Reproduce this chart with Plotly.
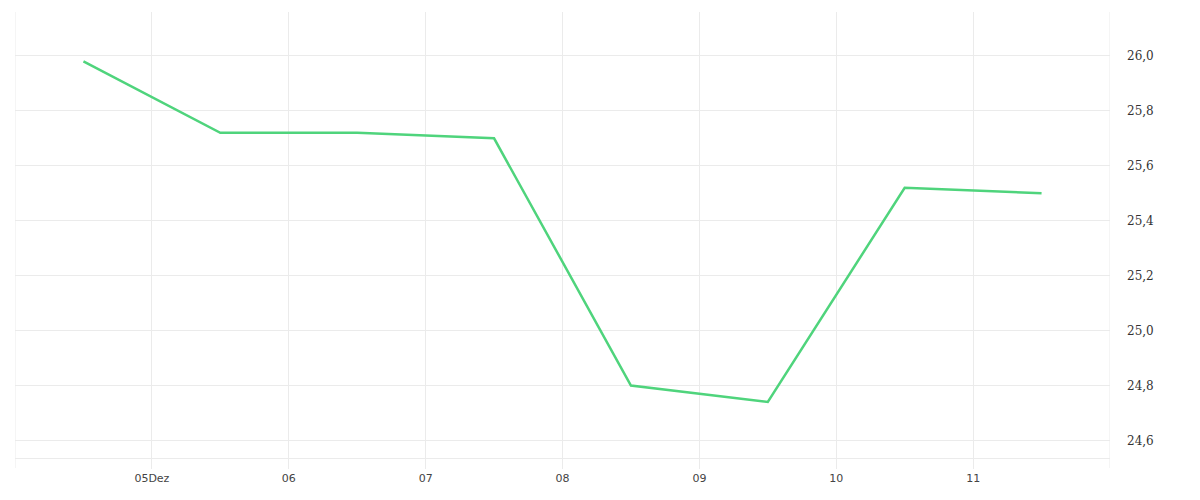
import plotly.graph_objects as go

# Datos (puntos a mediodía de cada día)
fechas = ["2023-12-04 12:00", "2023-12-05 12:00", "2023-12-06 12:00", "2023-12-07 12:00",
          "2023-12-08 12:00", "2023-12-09 12:00", "2023-12-10 12:00", "2023-12-11 12:00"]
valores = [25.98, 25.72, 25.72, 25.70, 24.80, 24.74, 25.52, 25.50]

# Ticks del eje x
tick_fechas = ["2023-12-05", "2023-12-06", "2023-12-07", "2023-12-08",
               "2023-12-09", "2023-12-10", "2023-12-11"]
tick_textos = ["05Dez", "06", "07", "08", "09", "10", "11"]
bordes_x = ["2023-12-04", "2023-12-12"]

# Ticks del eje y
y_ticks = [24.6, 24.8, 25.0, 25.2, 25.4, 25.6, 25.8, 26.0]
y_textos = ["24,6", "24,8", "25,0", "25,2", "25,4", "25,6", "25,8", "26,0"]

grid = "#ebebeb"

fig = go.Figure(go.Scatter(
    x=fechas, y=valores,
    mode="lines",
    line=dict(color="#4fd47c", width=2.5),
    hoverinfo="x+y"
))

# Líneas verticales en los bordes (con su marca hacia abajo)
for b in bordes_x:
    fig.add_shape(type="line", xref="x", yref="paper",
                  x0=b, x1=b, y0=-10 / 446, y1=1,
                  line=dict(color=grid, width=1), layer="below")

fig.update_layout(
    width=1192, height=492,
    margin=dict(l=7, r=90, t=4, b=42),
    paper_bgcolor="white",
    plot_bgcolor="white",
    showlegend=False,
    xaxis=dict(
        type="date",
        range=bordes_x,
        tickvals=tick_fechas,
        ticktext=tick_textos,
        showgrid=True, gridcolor=grid, gridwidth=1,
        ticks="outside", ticklen=10, tickcolor=grid,
        showline=True, linecolor=grid, linewidth=1,
        zeroline=False,
        tickfont=dict(family="DejaVu Sans", size=11, color="#444"),
    ),
    yaxis=dict(
        side="right",
        range=[24.536, 26.16],
        tickvals=y_ticks,
        ticktext=y_textos,
        showgrid=True, gridcolor=grid, gridwidth=1,
        ticks="", showline=False, zeroline=False,
        ticklabelstandoff=16,
        tickfont=dict(family="DejaVu Serif, Liberation Serif, serif", size=12, color="#333"),
    ),
)

fig.write_html("out.html")
